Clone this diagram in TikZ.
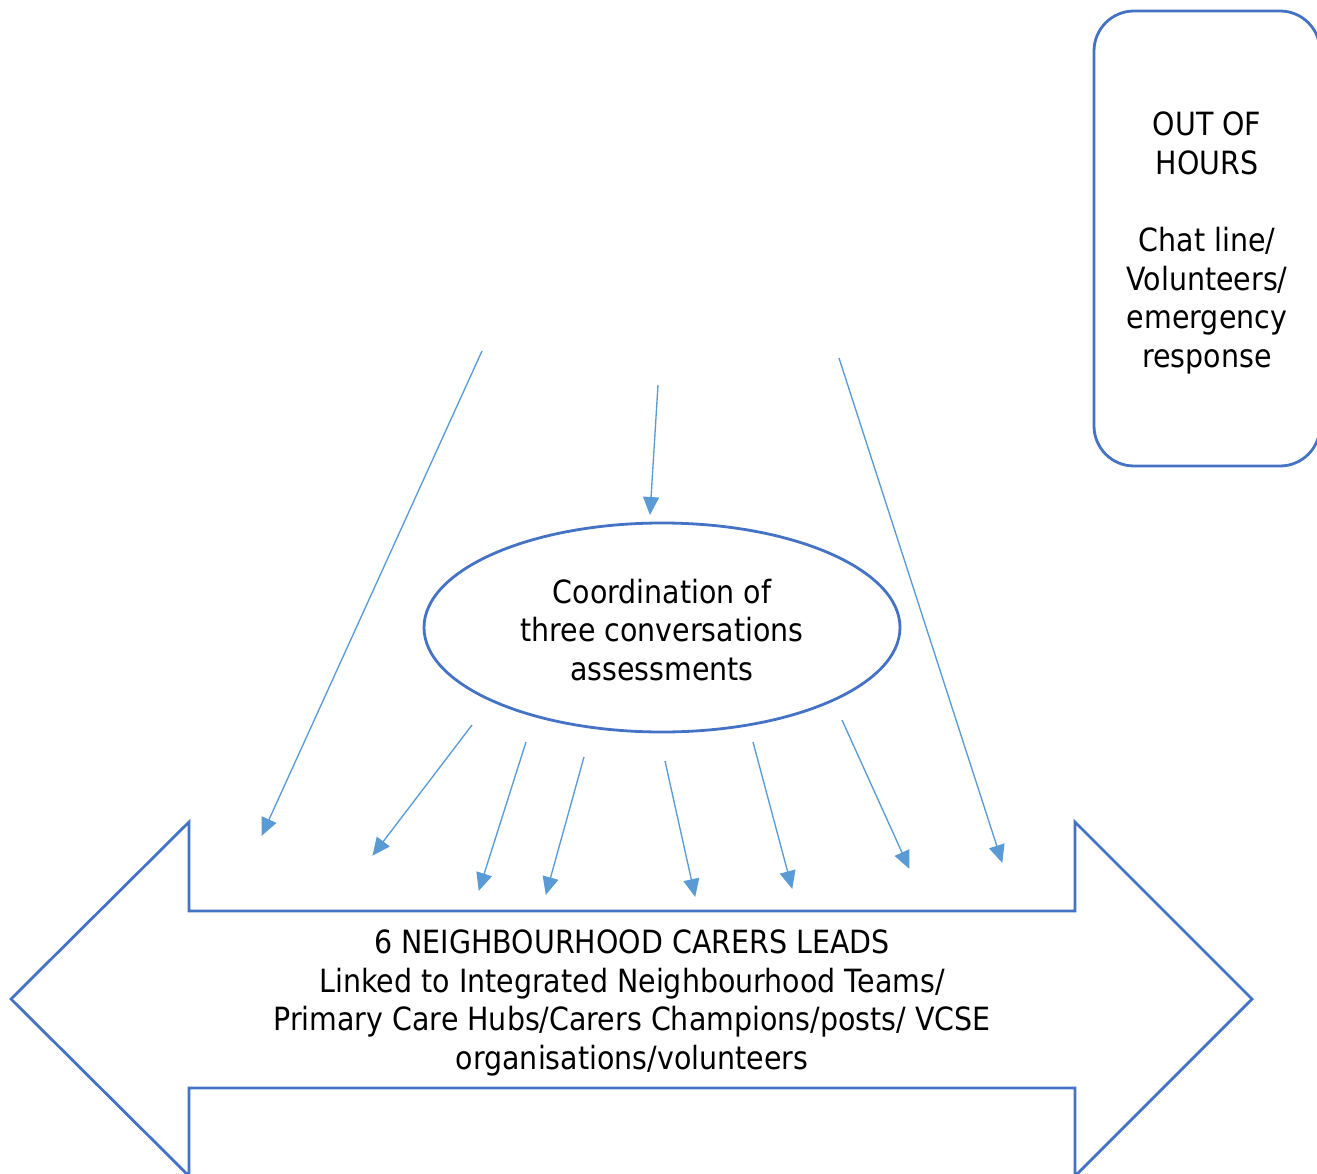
\documentclass[tikz,border=0pt]{standalone}
\usepackage{fontspec}
\setmainfont{DejaVu Sans}[FakeStretch=0.89]
\usetikzlibrary{arrows.meta,shapes.geometric}
\definecolor{outline}{HTML}{4472C4}
\definecolor{link}{HTML}{5B9BD5}
\tikzset{
  label text/.style={font=\fontsize{32}{38.7}\selectfont, align=center, text=black},
  outlined/.style={draw=outline, line width=2.8pt},
  feed/.style={draw=link, line width=1.35pt,
    -{Triangle[length=18pt,width=16pt]}, shorten >=-1pt},
}
\begin{document}
\begin{tikzpicture}[x=1pt,y=-1pt]
\useasboundingbox (0,0) rectangle (1317,1174);
\clip (0,0) rectangle (1317,1174);

% out-of-hours panel
\node[outlined, rounded corners=40pt, minimum width=226pt, minimum height=455pt,
      inner sep=0pt] (ooh) at (1207,238.5) {};
\node[label text] (oohtext) at (1207,243)
  {OUT OF\\HOURS\\[38.7pt]Chat line/\\Volunteers/\\emergency\\response};

% central assessment ellipse
\node[outlined, ellipse, minimum width=476pt, minimum height=209pt,
      inner sep=0pt] (coord) at (662,627.5) {};
\node[label text] (coordtext) at (662,630)
  {Coordination of\\three conversations\\assessments};

% two-headed block arrow
\draw[outlined, line join=miter]
  (11,999) -- (189,822) -- (189,911) -- (1075,911) -- (1075,822) -- (1252,999)
  -- (1075,1176) -- (1075,1088) -- (189,1088) -- (189,1176) -- cycle;
\node[label text] (leads) at (632,1003)
  {6 NEIGHBOURHOOD CARERS LEADS\\Linked to Integrated Neighbourhood Teams/\\Primary Care Hubs/Carers Champions/posts/ VCSE\\organisations/volunteers};

% connector end points
\coordinate (s1) at (482,351);  \coordinate (t1) at (262,835);
\coordinate (s2) at (658,385);  \coordinate (t2) at (650,514);
\coordinate (s3) at (839,358);  \coordinate (t3) at (1002,862);
\coordinate (s4) at (472,725);  \coordinate (t4) at (373,855);
\coordinate (s5) at (526,742);  \coordinate (t5) at (479,890);
\coordinate (s6) at (584,757);  \coordinate (t6) at (546,894);
\coordinate (s7) at (665,761);  \coordinate (t7) at (695,896);
\coordinate (s8) at (753,742);  \coordinate (t8) at (792,888);
\coordinate (s9) at (842,720);  \coordinate (t9) at (909,868);

\foreach \i in {1,...,9} \draw[feed] (s\i) -- (t\i);
\end{tikzpicture}
\end{document}
